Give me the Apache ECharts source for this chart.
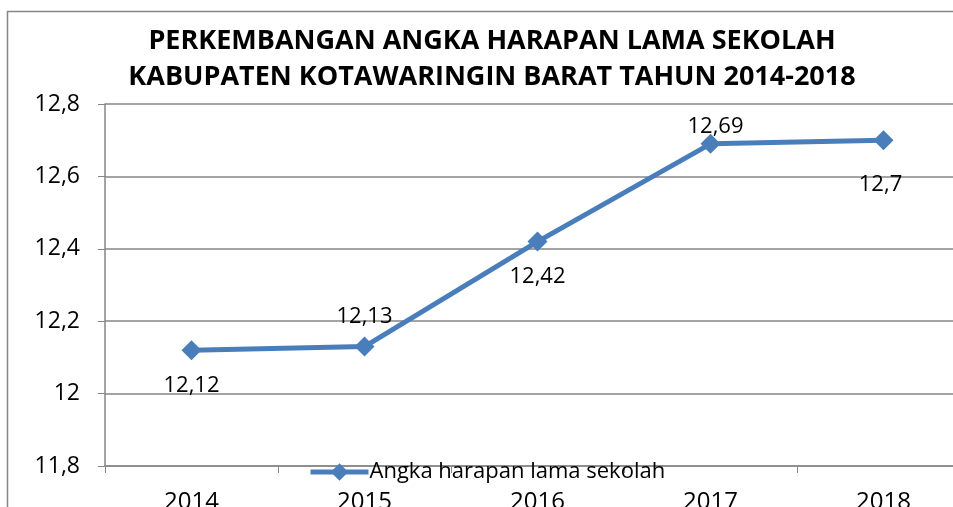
<!DOCTYPE html>
<html>
<head>
<meta charset="utf-8">
<script src="https://cdn.jsdelivr.net/npm/echarts@6/dist/echarts.min.js"></script>
<style>
  html, body { margin: 0; padding: 0; background: #fff; }
  #chart { width: 953px; height: 507px; }
</style>
</head>
<body>
<div id="chart"></div>
<script>
const years = ['2014', '2015', '2016', '2017', '2018']
const hls = [12.12, 12.13, 12.42, 12.69, 12.7]
const labelPos = ['bottom', 'top', 'bottom', 'top', 'bottom']
const labelOffset = [[0, 3], [0, 3], [0, 2], [5, 16], [-3, 12]]
const seriesName = 'Angka harapan lama sekolah'
const titleText = 'PERKEMBANGAN ANGKA HARAPAN LAMA SEKOLAH\nKABUPATEN KOTAWARINGIN BARAT TAHUN 2014-2018'

const font = '"Open Sans", sans-serif'
const blue = '#4a7ebb'
const comma = (v) => String(v).replace('.', ',')

const chart = echarts.init(document.getElementById('chart'))
chart.setOption({
  animation: false,
  textStyle: { fontFamily: font },
  graphic: [{
    type: 'rect', shape: { x: 7.5, y: 11.5, width: 1000, height: 600 },
    style: { fill: 'none', stroke: '#868686', lineWidth: 1.5 }, silent: true
  }],
  title: {
    text: titleText, left: 487, top: 18, textAlign: 'center',
    textStyle: { fontFamily: font, fontSize: 27, fontWeight: 'bold', color: '#000', lineHeight: 36 }
  },
  legend: {
    data: [seriesName], left: 303, top: 456, itemWidth: 58, itemHeight: 22, itemGap: 2,
    lineStyle: { width: 5, color: blue },
    textStyle: { fontFamily: font, fontSize: 22, color: '#000', padding: [0, 0, 0, -4] }
  },
  grid: { left: 105, top: 104, width: 865, height: 362, outerBoundsMode: 'none', containLabel: false },
  xAxis: {
    type: 'category', data: years, boundaryGap: true,
    axisLine: { lineStyle: { color: '#868686', width: 1.5 } },
    axisTick: { show: true, length: 7, lineStyle: { color: '#868686' } },
    axisLabel: { fontSize: 24, color: '#000', margin: 24, fontFamily: font }
  },
  yAxis: {
    type: 'value', min: 11.8, max: 12.8, interval: 0.2,
    axisLine: { show: true, lineStyle: { color: '#868686', width: 1.5 } },
    axisTick: { show: true, length: 7, lineStyle: { color: '#868686' } },
    splitLine: { lineStyle: { color: '#868686', width: 1.5 } },
    axisLabel: { fontSize: 23, color: '#000', margin: 25, fontFamily: font, formatter: (v) => comma(Math.round(v * 10) / 10) }
  },
  series: [{
    name: seriesName, type: 'line',
    data: hls.map((v, i) => ({ value: v, label: { position: labelPos[i], offset: labelOffset[i] } })),
    symbol: 'diamond', symbolSize: 20,
    lineStyle: { color: blue, width: 5 },
    itemStyle: { color: blue },
    label: { show: true, fontSize: 22, color: '#000', distance: 12, fontFamily: font, formatter: (p) => comma(p.value) }
  }]
})
</script>
</body>
</html>
